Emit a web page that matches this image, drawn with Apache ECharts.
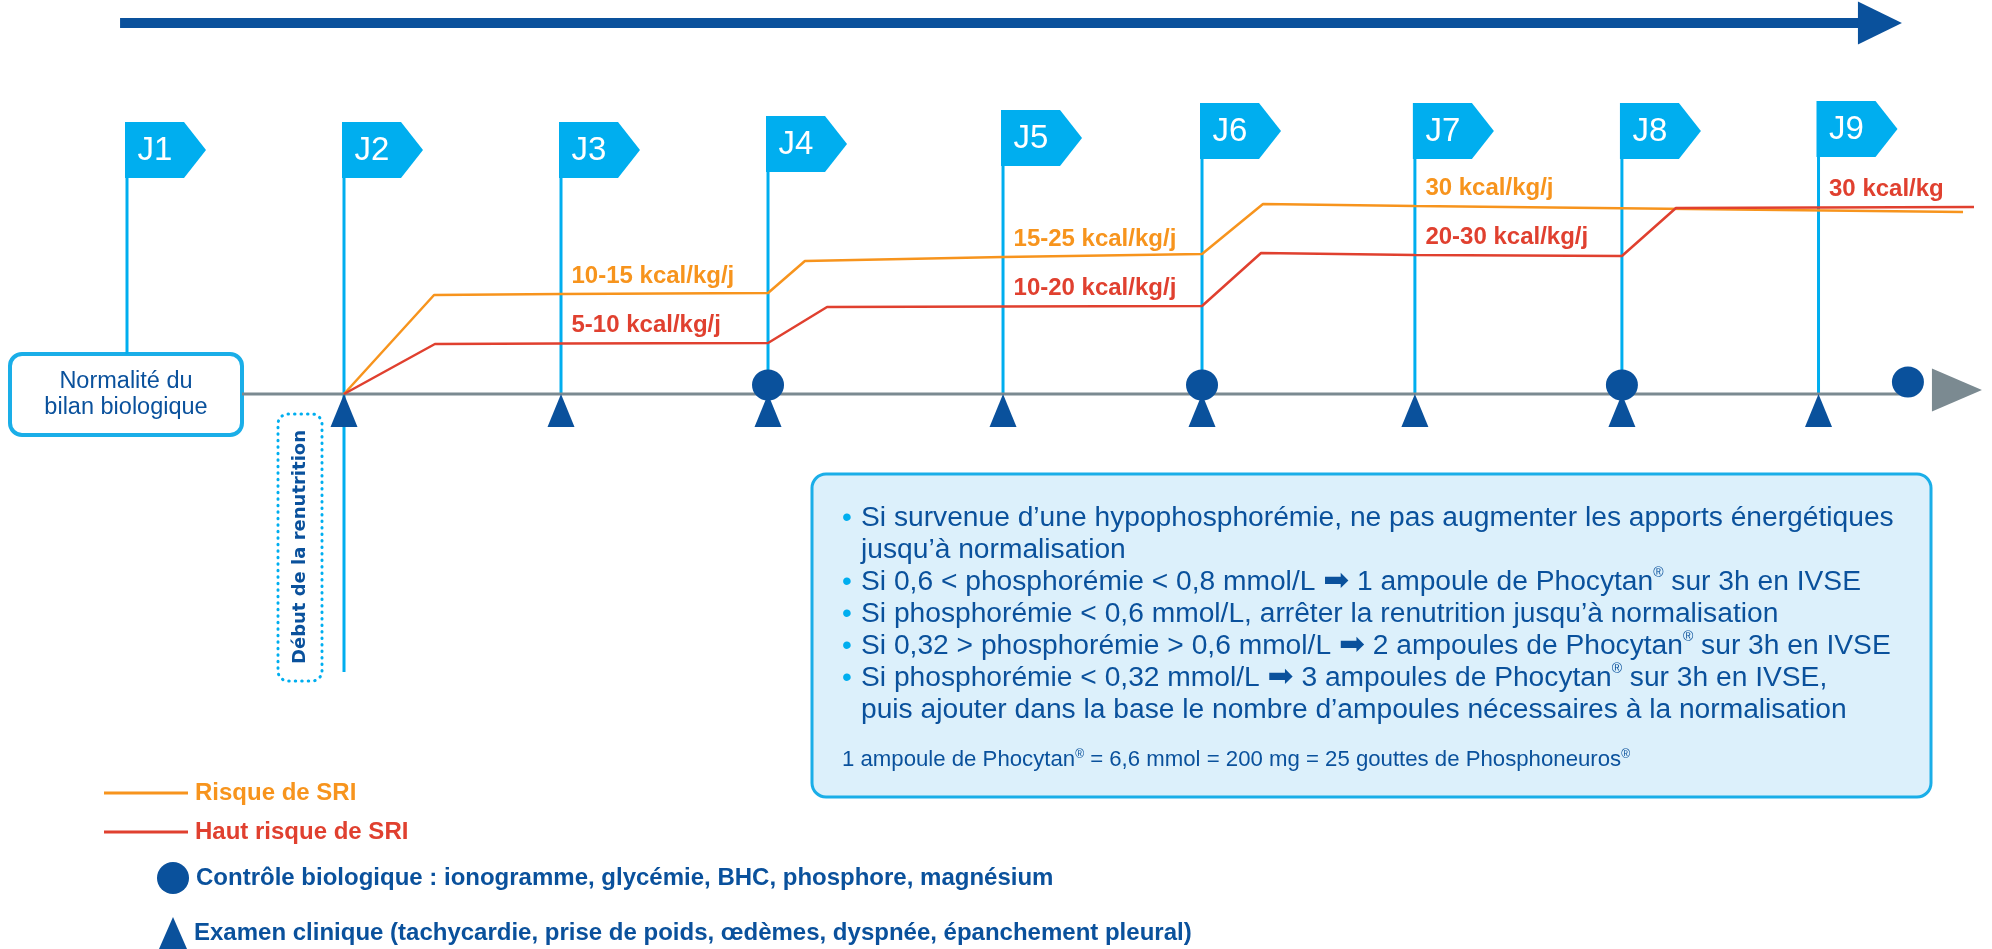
<!DOCTYPE html>
<html>
<head>
<meta charset="utf-8">
<title>Renutrition</title>
<style>
  *{margin:0;padding:0;}
  html,body{width:100%;height:100%;background:#fff;}
  #main{width:1992px;height:949px;}
</style>
</head>
<body>
<div id="main"></div>
<script src="https://cdn.jsdelivr.net/npm/echarts@6/dist/echarts.min.js"></script>
<script>
// jours (position sur l'axe du temps, en jours)
var days = ['J1', 'J2', 'J3', 'J4', 'J5', 'J6', 'J7', 'J8', 'J9'];
var dayPos = [1, 2, 3, 3.954, 5.037, 5.954, 6.935, 7.889, 8.795];
var flagTop = [27.2, 27.2, 27.2, 27.8, 28.4, 29.1, 29.1, 29.1, 29.3];
var poleBottom = [4.0, -27.8, 0, 0, 0, 0, 0, 0, 0];

// apports (niveau schématique)
var orangeX = [2, 2.415, 3, 3.954, 4.124, 5.037, 5.954, 6.235, 6.935, 9.461];
var orangeY = [0, 9.9, 10.0, 10.1, 13.3, 13.7, 14.0, 19.0, 18.8, 18.2];
var redX = [2, 2.419, 3, 3.954, 4.226, 5.037, 5.954, 6.226, 6.935, 7.889, 8.138, 8.795, 9.530];
var redY = [0, 5.0, 5.05, 5.1, 8.7, 8.75, 8.8, 14.1, 13.9, 13.8, 18.6, 18.65, 18.7];

// libellés : [index du point, texte]
var orangeLabels = [[2, '10-15 kcal/kg/j'], [5, '15-25 kcal/kg/j'], [8, '30 kcal/kg/j']];
var redLabels = [[2, '5-10 kcal/kg/j'], [5, '10-20 kcal/kg/j'], [8, '20-30 kcal/kg/j'], [11, '30 kcal/kg']];

// contrôles biologiques et examens cliniques
var controlDays = [4, 6, 8];
var nextControl = [9.207, 1.2];
var examDays = [2, 3, 4, 5, 6, 7, 8, 9];

// axe du temps
var topArrow = [[0.968, 37.1], [8.986, 37.1]];
var topArrowHead = [9.078, 37.1];
var timeAxis = [[1.530, 0], [9.207, 0]];
var timeAxisHead = [9.433, 0.4];

var infoLines = [
  'Si survenue d’une hypophosphorémie, ne pas augmenter les apports énergétiques',
  'jusqu’à normalisation',
  'Si 0,6 < phosphorémie < 0,8 mmol/L {a|➡} 1 ampoule de Phocytan{s|®} sur 3h en IVSE',
  'Si phosphorémie < 0,6 mmol/L, arrêter la renutrition jusqu’à normalisation',
  'Si 0,32 > phosphorémie > 0,6 mmol/L {a|➡} 2 ampoules de Phocytan{s|®} sur 3h en IVSE',
  'Si phosphorémie < 0,32 mmol/L {a|➡} 3 ampoules de Phocytan{s|®} sur 3h en IVSE,',
  'puis ajouter dans la base le nombre d’ampoules nécessaires à la normalisation'
];
var infoBullet = [true, false, true, true, true, true, false];
var infoNote = '1 ampoule de Phocytan{s|®} = 6,6 mmol = 200 mg = 25 gouttes de Phosphoneuros{s|®}';

var nameOrange = 'Risque de SRI';
var nameRed = 'Haut risque de SRI';
var nameCtrl = 'Contrôle biologique : ionogramme, glycémie, BHC, phosphore, magnésium';
var nameExam = 'Examen clinique (tachycardie, prise de poids, œdèmes, dyspnée, épanchement pleural)';

var orange = '#f7941d', red = '#e0402f', navy = '#0a519c', cyan = '#00aeef', gray = '#7b8a91';
var font = 'Liberation Sans, Arial, sans-serif';

function pairs(xs, ys) {
  return xs.map(function (x, i) { return [x, ys[i]]; });
}
function labelData(xs, ys, list) {
  return list.map(function (l) { return { value: [xs[l[0]], ys[l[0]]], name: l[1] }; });
}
function oneLegend(name, color, left, top, w, h) {
  return {
    orient: 'vertical', left: left, top: top,
    itemWidth: w, itemHeight: h,
    selectedMode: false,
    icon: h < 10 ? 'rect' : undefined,
    textStyle: { fontSize: 24, fontWeight: 'bold', fontFamily: font, lineHeight: 30,
      color: color, padding: [0, 0, 0, 2] },
    data: [name]
  };
}

var myChart = echarts.init(document.getElementById('main'));

// texte de l'encadré
var infoGraphics = [{
  type: 'rect',
  shape: { x: 812, y: 474, width: 1119, height: 323, r: 14 },
  style: { fill: '#dcf0fb', stroke: '#1aaee8', lineWidth: 3 }
}];
var lineY = [518, 550, 582, 614, 646, 678, 710];
var richInfo = {
  a: { fill: navy, fontFamily: 'DejaVu Sans', fontSize: 31 },
  s: { fill: navy, fontSize: 14, verticalAlign: 'top' }
};
infoLines.forEach(function (t, i) {
  if (infoBullet[i]) {
    infoGraphics.push({
      type: 'text', x: 842, y: lineY[i],
      style: { text: '•', fill: cyan, fontSize: 28, fontFamily: font, verticalAlign: 'middle' }
    });
  }
  infoGraphics.push({
    type: 'text', x: 861, y: lineY[i],
    style: { text: t, fill: navy, fontSize: 28.2, fontFamily: font, verticalAlign: 'middle', rich: richInfo }
  });
});
infoGraphics.push({
  type: 'text', x: 842, y: 760,
  style: { text: infoNote, fill: navy, fontSize: 22.2, fontFamily: font, verticalAlign: 'middle',
    rich: { s: { fill: navy, fontSize: 12, verticalAlign: 'top' } } }
});

var option = {
  backgroundColor: '#fff',
  animation: false,
  grid: { left: 18.5, right: 20.5, top: 0, bottom: 0 },
  xAxis: { type: 'value', min: 0.5, max: 9.5, show: false },
  yAxis: { type: 'value', min: -55.5, max: 39.4, show: false },
  legend: [
    oneLegend(nameOrange, orange, 99, 773, 84, 3),
    oneLegend(nameRed, red, 99, 812, 84, 3),
    oneLegend(nameCtrl, navy, 152, 857, 32, 32),
    oneLegend(nameExam, navy, 154, 912, 28, 32)
  ],
  graphic: [{
    type: 'group', z: 10,
    children: [{
      type: 'rect',
      shape: { x: 10, y: 354, width: 232, height: 81, r: 12 },
      style: { fill: '#fff', stroke: '#1aaee8', lineWidth: 4 }
    }, {
      type: 'text', x: 126, y: 395,
      style: { text: 'Normalité du\nbilan biologique', fill: navy, fontSize: 23.5, lineHeight: 26,
        fontFamily: font, align: 'center', verticalAlign: 'middle' }
    }, {
      type: 'rect',
      shape: { x: 278, y: 414, width: 44, height: 267, r: 10 },
      style: { fill: 'none', stroke: cyan, lineWidth: 3, lineDash: [0.5, 6], lineCap: 'round' }
    }, {
      type: 'text', x: 300, y: 547, rotation: Math.PI / 2,
      style: { text: 'Début de la renutrition', fill: navy, fontSize: 18, fontWeight: 'bold',
        fontFamily: 'DejaVu Sans', align: 'center', verticalAlign: 'middle' }
    }].concat(infoGraphics)
  }],
  series: [{
    name: 'flèche',
    type: 'line',
    data: topArrow,
    symbol: 'none',
    lineStyle: { color: navy, width: 10 },
    clip: false, silent: true, z: 2
  }, {
    name: 'pointe',
    type: 'scatter',
    data: [topArrowHead],
    symbol: 'triangle', symbolSize: [43, 44], symbolRotate: -90,
    itemStyle: { color: navy, opacity: 1 },
    clip: false, silent: true, z: 2
  }, {
    name: 'axe',
    type: 'line',
    data: timeAxis,
    symbol: 'none',
    lineStyle: { color: gray, width: 3 },
    clip: false, silent: true, z: 2
  }, {
    name: 'axe pointe',
    type: 'scatter',
    data: [timeAxisHead],
    symbol: 'triangle', symbolSize: [43, 50], symbolRotate: -90,
    itemStyle: { color: gray, opacity: 1 },
    clip: false, silent: true, z: 2
  }, {
    name: 'jours',
    type: 'custom',
    data: days.map(function (d, i) { return [dayPos[i], flagTop[i], poleBottom[i]]; }),
    encode: { x: 0, y: 1 },
    clip: false, silent: true, z: 1,
    renderItem: function (params, api) {
      var top = api.coord([api.value(0), api.value(1)]);
      var bot = api.coord([api.value(0), api.value(2)]);
      var x = top[0], y = top[1];
      return {
        type: 'group',
        children: [{
          type: 'line',
          shape: { x1: x, y1: y, x2: x, y2: bot[1] },
          style: { stroke: cyan, lineWidth: 3 }
        }, {
          type: 'polygon',
          shape: { points: [[x - 2, y], [x + 57, y], [x + 79, y + 28], [x + 57, y + 56], [x - 2, y + 56]] },
          style: { fill: cyan }
        }, {
          type: 'text', x: x + 28, y: y + 29,
          style: { text: days[params.dataIndex], fill: '#fff', fontSize: 33, fontFamily: font,
            align: 'center', verticalAlign: 'middle' }
        }]
      };
    }
  }, {
    name: nameOrange,
    type: 'line',
    data: pairs(orangeX, orangeY),
    symbol: 'none',
    color: orange,
    lineStyle: { color: orange, width: 2.5 },
    clip: false, z: 3
  }, {
    name: nameRed,
    type: 'line',
    data: pairs(redX, redY),
    symbol: 'none',
    color: red,
    lineStyle: { color: red, width: 2.5 },
    clip: false, z: 3
  }, {
    name: 'libellés orange',
    type: 'scatter',
    data: labelData(orangeX, orangeY, orangeLabels),
    symbolSize: 1, itemStyle: { color: 'transparent', opacity: 1 },
    label: { show: true, position: 'right', distance: 10, offset: [0, -18], formatter: '{b}',
      color: orange, fontSize: 24, fontWeight: 'bold', fontFamily: font },
    clip: false, silent: true, z: 5
  }, {
    name: 'libellés rouge',
    type: 'scatter',
    data: labelData(redX, redY, redLabels),
    symbolSize: 1, itemStyle: { color: 'transparent', opacity: 1 },
    label: { show: true, position: 'right', distance: 10, offset: [0, -18], formatter: '{b}',
      color: red, fontSize: 24, fontWeight: 'bold', fontFamily: font },
    clip: false, silent: true, z: 5
  }, {
    name: nameExam,
    type: 'scatter',
    data: examDays.map(function (d) { return [dayPos[d - 1], 0]; }),
    symbol: 'triangle', symbolSize: [27, 33], symbolOffset: [0, 16.5],
    itemStyle: { color: navy, opacity: 1 },
    clip: false, z: 4
  }, {
    name: nameCtrl,
    type: 'scatter',
    data: controlDays.map(function (d) { return [dayPos[d - 1], 0.9]; }).concat([nextControl]),
    symbol: 'circle', symbolSize: [32, 31],
    itemStyle: { color: navy, opacity: 1 },
    clip: false, z: 5
  }]
};
myChart.setOption(option);
</script>
</body>
</html>
